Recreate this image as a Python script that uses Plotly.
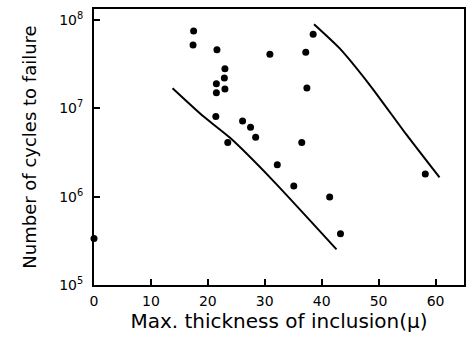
import plotly.graph_objects as go

# Data
pts_x = [0, 17.5, 17.4, 21.6, 30.9, 23.0, 22.9, 21.5, 21.5, 23.0, 21.4, 26.1, 27.5, 28.4, 23.5, 32.2,
         38.5, 37.2, 37.4, 36.5, 58.2, 35.1, 41.4, 43.3]
pts_y = [3.35e5, 7.5e7, 5.2e7, 4.6e7, 4.1e7, 2.8e7, 2.2e7, 1.9e7, 1.5e7, 1.65e7, 8.1e6, 7.2e6, 6.1e6, 4.7e6, 4.1e6, 2.3e6,
         6.9e7, 4.3e7, 1.7e7, 4.1e6, 1.8e6, 1.32e6, 9.9e5, 3.8e5]

line1_x = [13.8, 19.2, 23.9, 31.2, 42.6]
line1_y = [10**7.228, 10**6.910, 10**6.666, 10**6.199, 10**5.404]
line2_x = [38.65, 43.16, 48.42, 54.86, 60.70]
line2_y = [10**7.952, 10**7.678, 10**7.266, 10**6.704, 10**6.217]

x_ticks = [0, 10, 20, 30, 40, 50, 60]
y_ticks = [1e5, 1e6, 1e7, 1e8]
y_ticktext = ["10<sup>5</sup>", "10<sup>6</sup>", "10<sup>7</sup>", "10<sup>8</sup>"]

fig = go.Figure()
fig.add_trace(go.Scatter(x=line1_x, y=line1_y, mode="lines",
                         line=dict(color="black", width=2, shape="spline", smoothing=0.6), showlegend=False))
fig.add_trace(go.Scatter(x=line2_x, y=line2_y, mode="lines",
                         line=dict(color="black", width=2, shape="spline", smoothing=0.6), showlegend=False))
fig.add_trace(go.Scatter(x=pts_x, y=pts_y, mode="markers", cliponaxis=False,
                         marker=dict(color="black", size=7), showlegend=False))

fig.update_layout(
    width=473, height=344,
    margin=dict(l=94, r=9, t=7, b=59),
    paper_bgcolor="white", plot_bgcolor="white",
    font=dict(family="DejaVu Sans", size=14, color="black"),
    xaxis=dict(range=[0, 65], tickvals=x_ticks, ticks="inside", ticklen=6, tickwidth=2,
               tickcolor="black", showline=True, linecolor="black", linewidth=2, mirror=True,
               showgrid=False, zeroline=False, tickfont=dict(size=14), ticklabelstandoff=2,
               title=dict(text="Max. thickness of inclusion(μ)", font=dict(size=20), standoff=6)),
    yaxis=dict(type="log", range=[5, 8.124], tickvals=y_ticks, ticktext=y_ticktext,
               ticks="inside", ticklen=6, tickwidth=2, tickcolor="black",
               showline=True, linecolor="black", linewidth=2, mirror=True,
               showgrid=False, zeroline=False, tickfont=dict(size=14), ticklabelstandoff=6,
               title=dict(text="Number of cycles to failure", font=dict(size=18), standoff=18)),
)

fig.write_html("out.html")
